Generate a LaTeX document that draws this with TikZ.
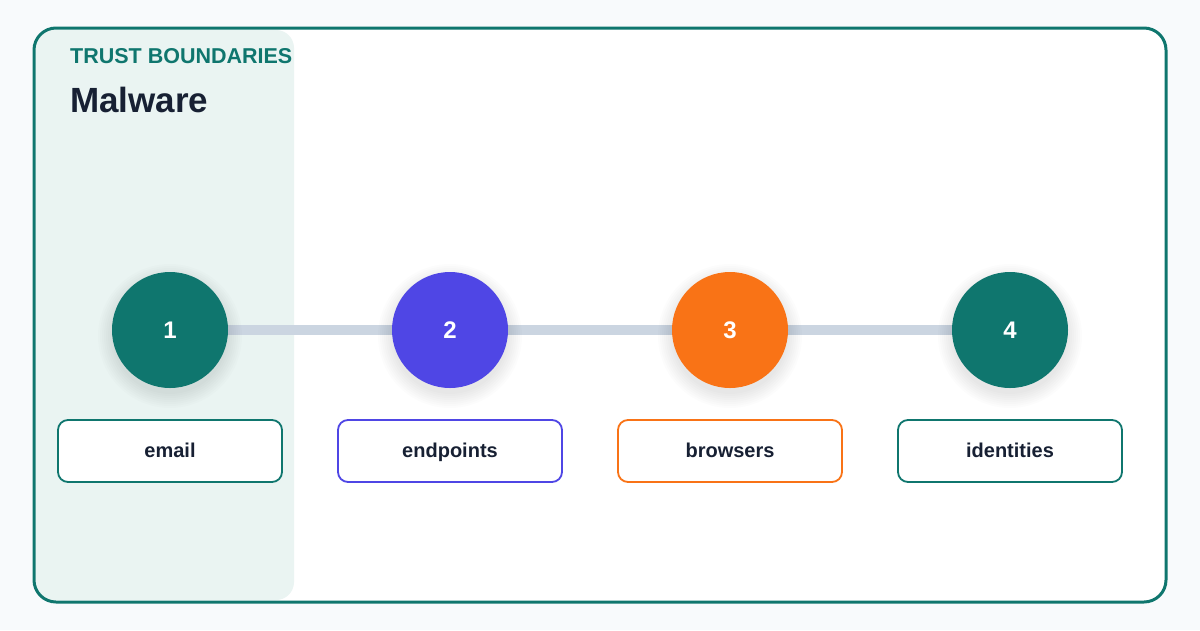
\documentclass[tikz,border=0pt]{standalone}
\usepackage{fontspec}
\setmainfont{Liberation Sans}
\definecolor{bgc}{HTML}{F8FAFC}
\definecolor{teal}{HTML}{0F766E}
\definecolor{indigo}{HTML}{4F46E5}
\definecolor{orange}{HTML}{F97316}
\definecolor{band}{HTML}{EAF4F2}
\definecolor{linec}{HTML}{CBD5E1}
\definecolor{ink}{HTML}{172033}
\tikzset{
  stepcircle/.style={circle, minimum size=116pt, inner sep=0pt, fill=#1, text=white,
    font=\bfseries\fontsize{24}{28}\selectfont},
  labelbox/.style={draw=#1, line width=1.8pt, rounded corners=10pt, fill=white,
    minimum width=224pt, minimum height=62pt, inner sep=0pt, text=ink,
    text height=17pt, text depth=4pt,
    font=\bfseries\fontsize{20}{24}\selectfont},
  connector/.style={draw=linec, line width=10pt},
  softshadow/.style={fill=black, fill opacity=0.013}
}
\begin{document}
\begin{tikzpicture}[x=1pt,y=-1pt]
\useasboundingbox (0,0) rectangle (1200,630);
\fill[bgc] (0,0) rectangle (1200,630);
% outer frame
\fill[white, rounded corners=22pt] (34,28) rectangle (1166,602);
% trust boundary band
\fill[band, rounded corners=18pt] (36,30) rectangle (294,600);
\draw[teal, line width=3pt, rounded corners=22pt] (34,28) rectangle (1166,602);
% title
\node[anchor=base west, inner sep=0pt, text=teal, font=\bfseries\fontsize{21.5}{26}\selectfont] (kicker) at (70,63) {TRUST BOUNDARIES};
\node[anchor=base west, inner sep=0pt, text=ink, font=\bfseries\fontsize{35}{42}\selectfont] (title) at (70,112) {Malware};
% steps
\coordinate (p1) at (170,330);
\coordinate (p2) at (450,330);
\coordinate (p3) at (730,330);
\coordinate (p4) at (1010,330);
\draw[connector] (p1) -- (p2) -- (p3) -- (p4);
% soft shadows
\foreach \x in {170,450,730,1010}{
  \foreach \r in {58,60,...,72}{
    \fill[softshadow] (\x,336) circle[radius=\r];
  }
}
\node[stepcircle=teal] (c1) at (p1) {1};
\node[stepcircle=indigo] (c2) at (p2) {2};
\node[stepcircle=orange] (c3) at (p3) {3};
\node[stepcircle=teal] (c4) at (p4) {4};
\node[labelbox=teal] (l1) at (170,451) {email};
\node[labelbox=indigo] (l2) at (450,451) {endpoints};
\node[labelbox=orange] (l3) at (730,451) {browsers};
\node[labelbox=teal] (l4) at (1010,451) {identities};
\end{tikzpicture}
\end{document}
